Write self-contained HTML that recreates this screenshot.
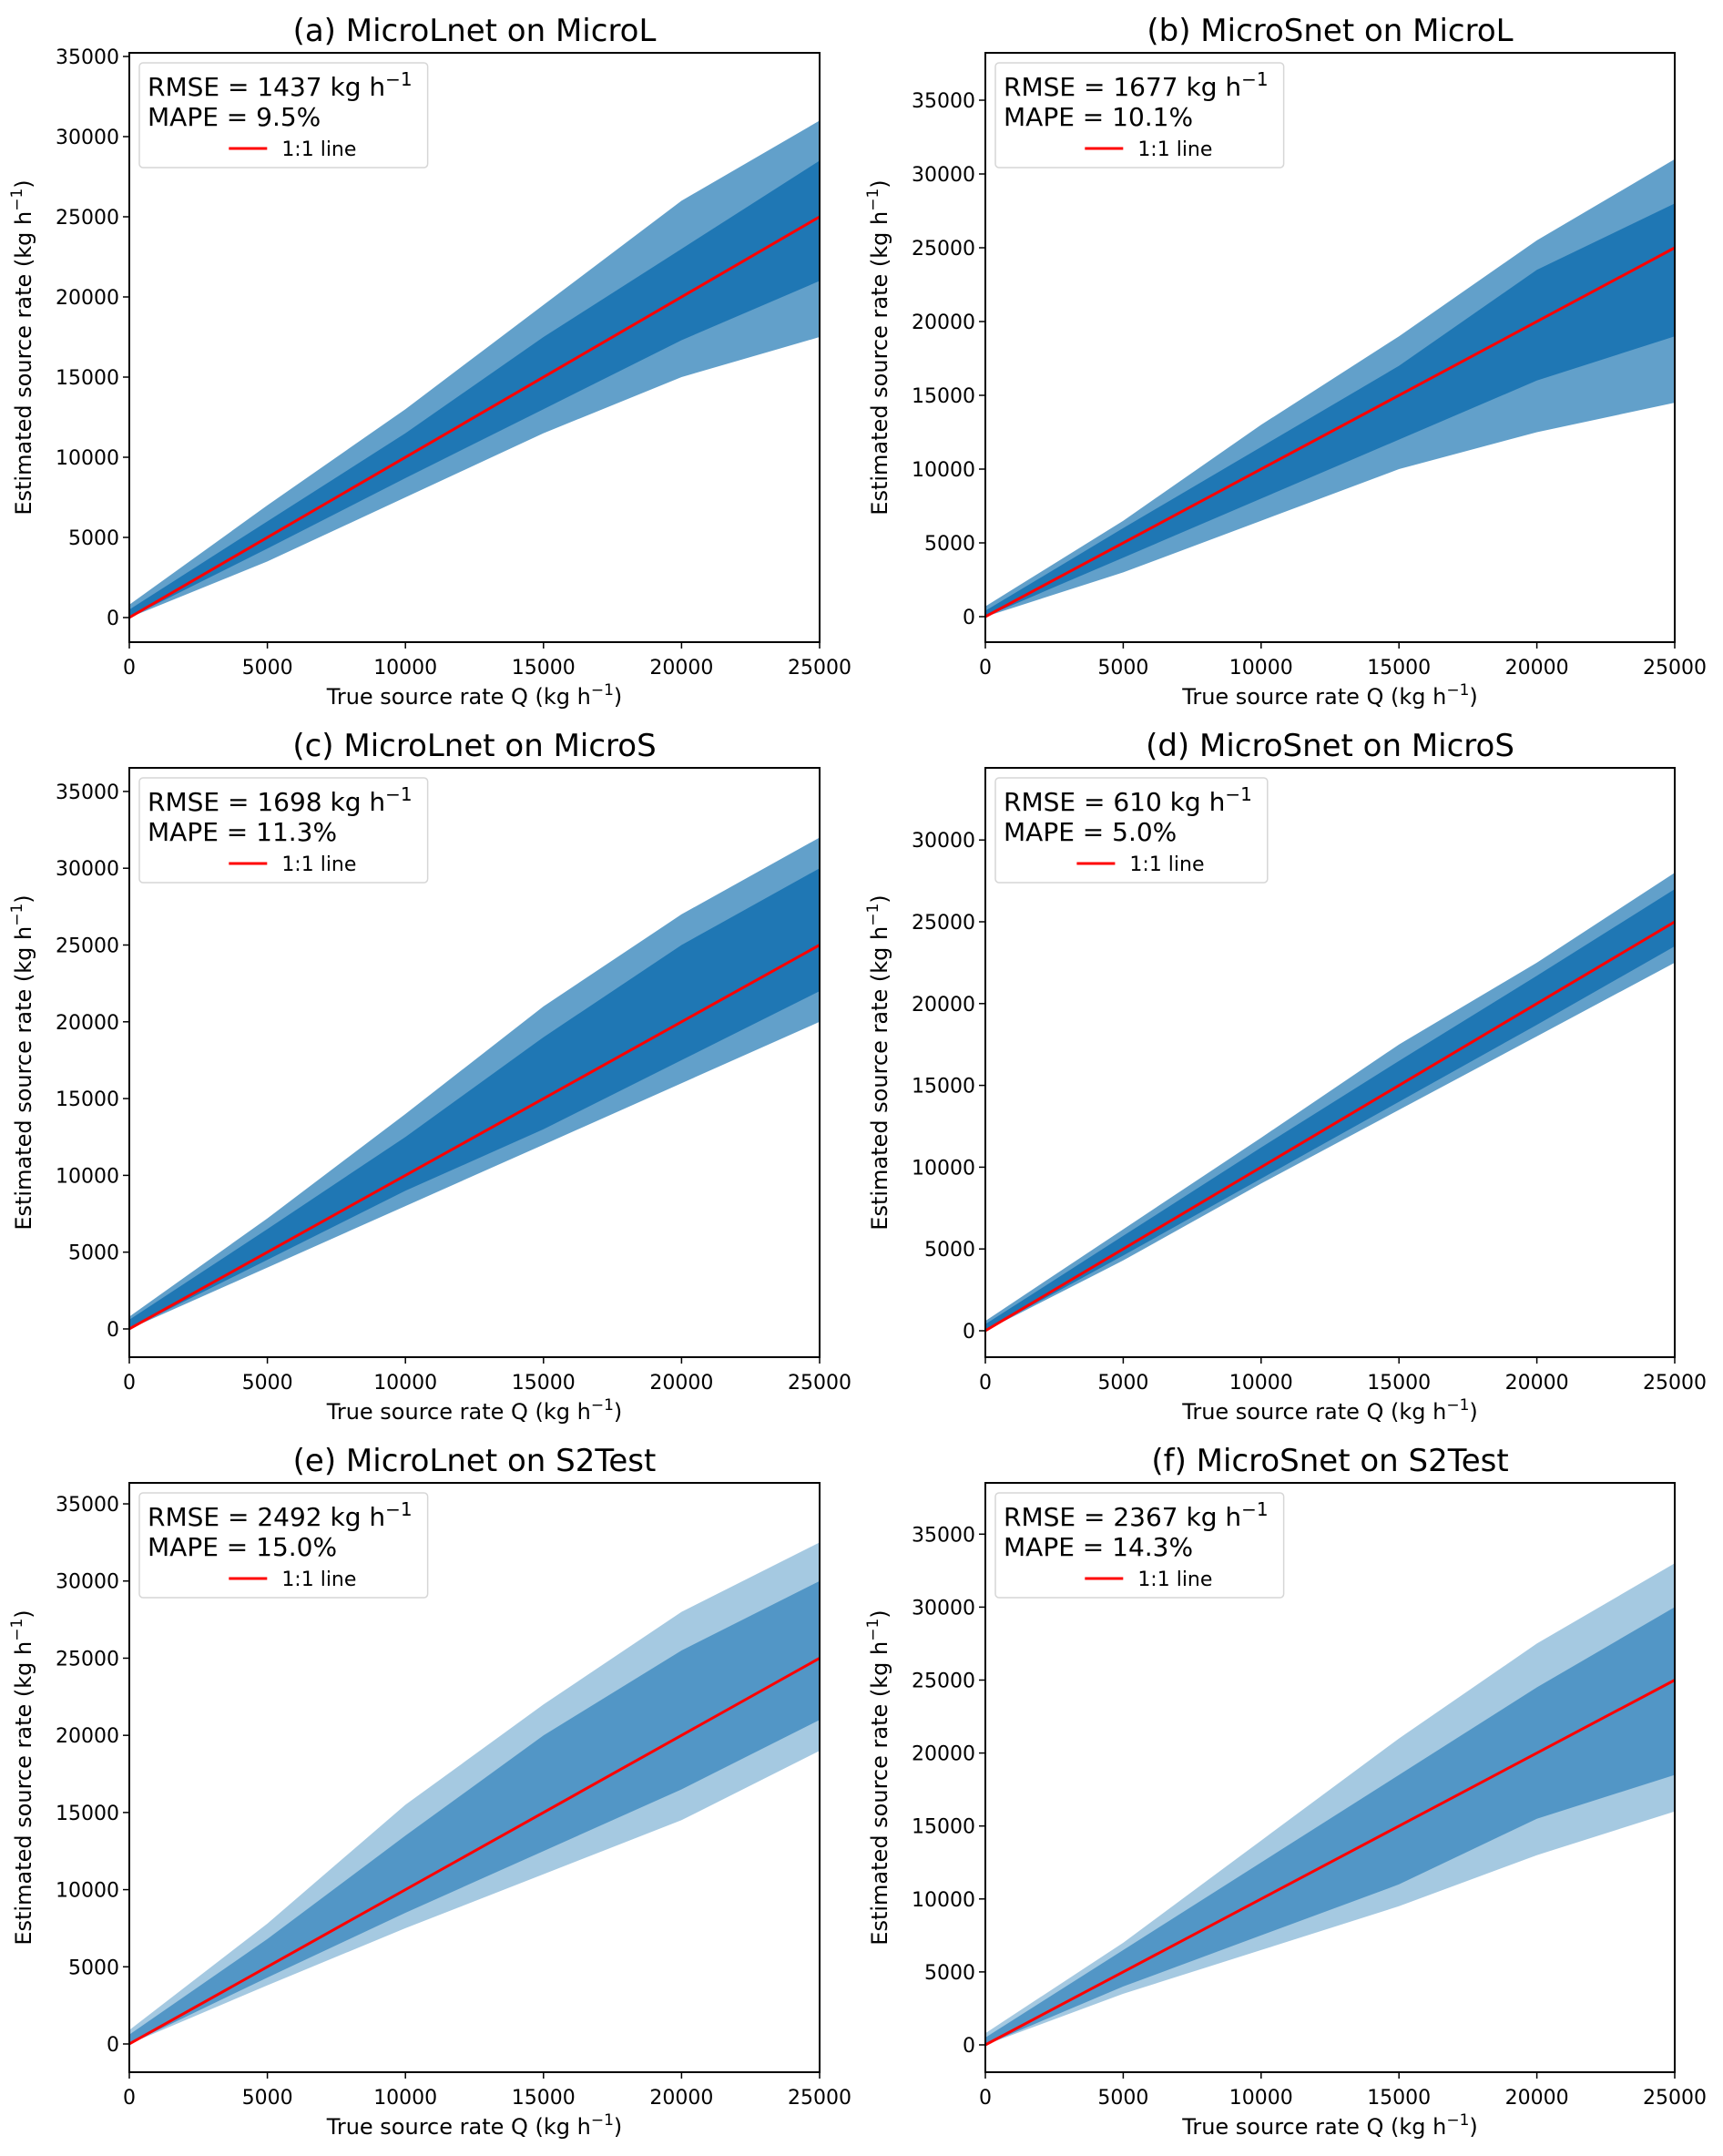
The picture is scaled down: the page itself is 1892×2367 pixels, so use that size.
<!DOCTYPE html>
<html><head><meta charset="utf-8"><style>
html,body{margin:0;padding:0;background:#fff;}
svg{display:block;font-family:"DejaVu Sans","Liberation Sans",sans-serif;}
</style></head><body>
<svg id="fig" width="1892" height="2367" viewBox="0 0 1892 2367" xmlns="http://www.w3.org/2000/svg"></svg>
<script>
// ---- data ----
const panelTitles = ["(a) MicroLnet on MicroL","(b) MicroSnet on MicroL","(c) MicroLnet on MicroS","(d) MicroSnet on MicroS","(e) MicroLnet on S2Test","(f) MicroSnet on S2Test"];
const rmseValues = ["1437","1677","1698","610","2492","2367"];
const mapeValues = ["9.5%","10.1%","11.3%","5.0%","15.0%","14.3%"];
const xCategories = [0,5000,10000,15000,20000,25000];
const xTickLabels = [0,5000,10000,15000,20000,25000];
const yMinValues = [-1534,-1728,-1839,-1615,-1830,-1873];
const yMaxValues = [35227,38210,36536,34410,36360,38514];
// dense core band (lower / upper) per x category
const coreLo = [[0,4300,8700,13000,17300,21000],[0,4000,8000,12000,16000,19000],[0,4500,9000,13000,17500,22000],[0,4600,9300,14000,18700,23500],[0,4300,8500,12500,16500,21000],[0,4000,7500,11000,15500,18500]];
const coreHi = [[500,6000,11500,17500,23000,28500],[400,6000,11500,17000,23500,28000],[600,6500,12500,19000,25000,30000],[400,5800,11200,16500,21700,27000],[600,6800,13500,20000,25500,30000],[500,6500,12500,18500,24500,30000]];
// sparse outer band
const outLo = [[0,3500,7500,11500,15000,17500],[0,3000,6500,10000,12500,14500],[0,4000,8000,12000,16000,20000],[0,4300,9000,13500,18000,22500],[0,3800,7500,11000,14500,19000],[0,3500,6500,9500,13000,16000]];
const outHi = [[800,7000,13000,19500,26000,31000],[700,6500,13000,19000,25500,31000],[800,7200,14000,21000,27000,32000],[600,6200,11800,17500,22500,28000],[900,7800,15500,22000,28000,32500],[800,7000,14000,21000,27500,33000]];
const lineValues = [0,25000];

// ---- layout ----
const NS="http://www.w3.org/2000/svg";
const svg=document.getElementById('fig');
const colLeft=[142,1082], colW=[758,757], rowTop=[58,843,1628], H=647;
function mk(tag,attrs,parent){const e=document.createElementNS(NS,tag);for(const k in attrs)e.setAttribute(k,attrs[k]);(parent||svg).appendChild(e);return e;}

for(let p=0;p<6;p++){
  const c=p%2, r=Math.floor(p/2);
  const L=colLeft[c], W=colW[c], T=rowTop[r], B=T+H;
  const ymin=yMinValues[p], ymax=yMaxValues[p];
  const X=v=>L+v/25000*W;
  const Y=v=>B-(v-ymin)/(ymax-ymin)*H;
  const g=mk('g',{});
  
  
  const clipId='clip'+p;
  const cp=mk('clipPath',{id:clipId},g); mk('rect',{x:L,y:T,width:W,height:H},cp);
  const pg=mk('g',{'clip-path':'url(#'+clipId+')'},g);
  const sparse=(p>=4);
  let d='';
  xCategories.forEach((x,i)=>{d+=(i?'L':'M')+X(x).toFixed(1)+','+Y(outHi[p][i]).toFixed(1);});
  for(let i=xCategories.length-1;i>=0;i--)d+='L'+X(xCategories[i]).toFixed(1)+','+Y(outLo[p][i]).toFixed(1);
  const ob=mk('path',{d:d+'Z',fill:'#1f77b4','fill-opacity':sparse?0.4:0.7,stroke:'none'},pg);
  
  
  d='';
  xCategories.forEach((x,i)=>{d+=(i?'L':'M')+X(x).toFixed(1)+','+Y(coreHi[p][i]).toFixed(1);});
  for(let i=xCategories.length-1;i>=0;i--)d+='L'+X(xCategories[i]).toFixed(1)+','+Y(coreLo[p][i]).toFixed(1);
  const cb=mk('path',{d:d+'Z',fill:'#1f77b4','fill-opacity':sparse?0.62:1,stroke:'none'},pg);
  
  
  const ln=mk('line',{x1:X(lineValues[0]),y1:Y(lineValues[0]),x2:X(lineValues[1]),y2:Y(lineValues[1]),stroke:'#ff0000','stroke-width':3},pg);
  
  
  const fr=mk('rect',{x:L,y:T,width:W,height:H,fill:'none',stroke:'#000','stroke-width':2},g);
  
  
  xTickLabels.forEach(v=>{
    mk('line',{x1:X(v),y1:B,x2:X(v),y2:B+7,stroke:'#000','stroke-width':1.5},g);
    const t=mk('text',{x:X(v),y:B+35,'font-size':22,'text-anchor':'middle',fill:'#000'},g);
    t.textContent=v;
    
    
  });
  for(let v=0;v<=ymax;v+=5000){
    mk('line',{x1:L-7,y1:Y(v),x2:L,y2:Y(v),stroke:'#000','stroke-width':1.5},g);
    const t=mk('text',{x:L-11,y:Y(v)+8,'font-size':22,'text-anchor':'end',fill:'#000'},g);
    t.textContent=v;
    
    
  }
  const tt=mk('text',{x:L+W/2,y:T-13,'font-size':34,'text-anchor':'middle',fill:'#000'},g);
  tt.textContent=panelTitles[p];
  
  
  const xl=mk('text',{x:L+W/2,y:B+68,'font-size':24,'text-anchor':'middle',fill:'#000'},g);
  xl.innerHTML='True source rate Q (kg h<tspan dy="-10" font-size="17">−1</tspan><tspan dy="10">)</tspan>';
  
  
  const yx=L-108, yy=T+H/2;
  const yl=mk('text',{x:yx,y:yy,'font-size':24,'text-anchor':'middle',fill:'#000',transform:'rotate(-90 '+yx+' '+yy+')'},g);
  yl.innerHTML='Estimated source rate (kg h<tspan dy="-10" font-size="17">−1</tspan><tspan dy="10">)</tspan>';
  
  
  const lg=mk('g',{},g);
  
  
  const box=mk('rect',{x:L+11,y:T+11,width:275,height:115,rx:4,fill:'#fff','fill-opacity':0.85,stroke:'#d6d6d6','stroke-width':1.5},lg);
  const t1=mk('text',{x:L+20,y:T+47,'font-size':28,fill:'#000'},lg);
  t1.innerHTML='RMSE = '+rmseValues[p]+' kg h<tspan dy="-11" font-size="20">−1</tspan>';
  
  
  const t2=mk('text',{x:L+20,y:T+80,'font-size':28,fill:'#000'},lg);
  t2.textContent='MAPE = '+mapeValues[p];
  
  
  const bw=Math.max(t1.getBBox().width,t2.getBBox().width);
  box.setAttribute('width',bw+26);
  const cx=L+11+(bw+26)/2;
  mk('line',{x1:cx-60,y1:T+105,x2:cx-18,y2:T+105,stroke:'#ff0000','stroke-width':3},lg);
  const t3=mk('text',{x:cx-2,y:T+113,'font-size':22,fill:'#000'},lg);
  t3.textContent='1:1 line';
  
  
}
</script>
</body></html>
